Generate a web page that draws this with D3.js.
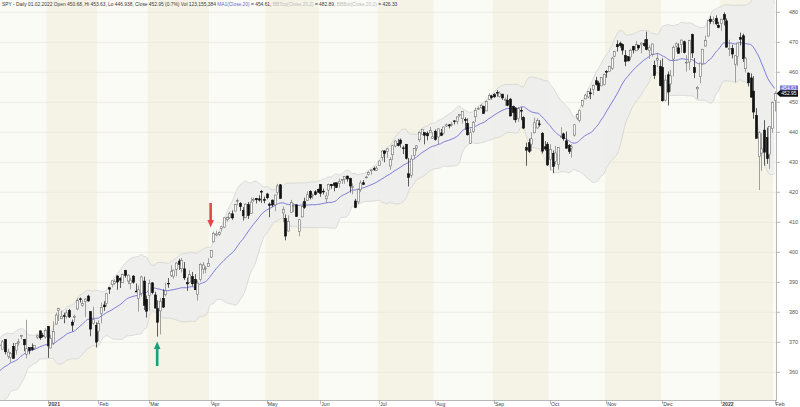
<!DOCTYPE html>
<html><head><meta charset="utf-8">
<script src="https://cdn.jsdelivr.net/npm/d3@7"></script>
<style>body{margin:0;background:#fff}svg{display:block}</style>
</head><body>
<svg id="c" width="800" height="407"></svg>
<script>
// ---- DATA: SPY daily [day, open, high, low, close] ----
// Nov 2020 closes only (warm-up for the 20-day MA / Bollinger bands, off-screen)
const nov2020 = [[2,330.20],[3,336.03],[4,343.54],[5,350.24],[6,350.16],[9,354.56],[10,354.04],[11,356.67],[12,352.21],[13,357.34],[16,361.01],[17,358.64],[18,354.35],[19,356.28],[20,355.33],[23,357.46],[24,363.67],[25,362.82],[27,363.92],[30,362.06]];
const dec2020 = [[1,365.57,367.68,364.93,366.02],[2,364.82,366.96,364.20,366.79],[3,366.68,368.19,365.50,366.69],[4,367.32,369.85,367.22,369.85],[7,369.02,369.62,367.72,369.09],[8,367.72,370.78,367.67,370.17],[9,370.88,371.05,365.95,366.85],[10,365.37,367.86,364.43,366.73],[11,364.90,366.74,363.26,366.30],[14,368.64,369.80,364.47,364.66],[15,367.40,369.59,365.92,369.59],[16,369.82,371.16,368.87,370.17],[17,371.94,372.46,371.05,372.24],[18,370.97,371.15,367.02,369.18],[21,366.00,377.50,364.60,367.86],[22,368.21,368.33,366.03,367.24],[23,368.28,369.62,367.22,367.57],[24,368.08,369.03,367.45,369.00],[28,371.74,372.59,371.07,372.17],[29,373.81,374.00,370.83,371.46],[30,372.34,373.10,371.57,371.99],[31,371.78,374.66,371.23,373.88]];
const jan2021 = [[4,375.31,375.45,364.82,368.79],[5,368.10,372.50,368.05,371.33],[6,369.71,376.98,369.12,373.55],[7,376.10,379.90,375.91,379.10],[8,380.59,381.49,377.10,381.26],[11,377.85,380.58,377.72,378.69],[12,378.89,379.86,376.36,378.77],[13,378.69,380.86,377.85,379.79],[14,380.59,381.13,378.10,378.46],[15,376.72,377.58,373.70,375.70],[19,378.34,379.23,376.75,378.65],[20,381.11,384.79,380.69,383.89],[21,384.49,384.95,383.25,384.24],[22,382.25,384.13,381.84,382.88],[25,383.67,384.77,378.46,384.39],[26,385.41,385.85,383.54,383.79],[27,380.22,380.32,372.01,374.41],[28,376.36,381.93,375.89,377.63],[29,375.63,376.67,368.27,370.07]];
const feb2021 = [[1,373.72,377.34,370.38,376.23],[2,379.65,383.22,376.32,381.55],[3,382.44,383.70,380.48,381.85],[4,382.96,386.24,381.97,386.19],[5,388.20,388.47,386.14,387.71],[8,389.27,390.56,388.35,390.51],[9,389.61,391.00,389.17,390.25],[10,392.12,392.28,387.50,390.08],[11,391.24,391.69,388.10,390.71],[12,389.85,392.90,389.77,392.64],[16,393.96,394.17,391.53,392.30],[17,390.42,392.66,389.33,392.39],[18,389.59,391.52,387.74,390.72],[19,392.07,392.38,389.55,390.03],[22,387.06,389.62,386.74,387.03],[23,384.66,388.95,380.20,387.50],[24,386.33,392.23,385.27,391.77],[25,390.41,391.88,380.78,382.33],[26,384.35,385.58,378.23,380.36]];
const mar2021 = [[1,385.59,390.92,380.57,389.58],[2,389.82,390.07,386.00,386.54],[3,385.79,386.83,381.31,381.42],[4,381.22,384.00,371.88,376.70],[5,380.46,384.76,372.64,383.63],[8,384.66,387.68,381.42,381.72],[9,385.85,389.91,385.31,387.17],[10,389.69,391.40,388.17,389.58],[11,392.23,395.65,391.74,393.53],[12,392.07,394.21,391.20,394.06],[15,394.33,396.69,392.03,396.41],[16,397.07,397.83,394.11,395.91],[17,394.53,398.12,393.30,397.26],[18,394.48,396.72,390.75,391.48],[19,389.88,391.57,387.15,389.48],[22,390.03,394.07,389.97,392.59],[23,391.91,393.46,388.66,389.50],[24,391.00,392.75,387.47,387.52],[25,385.98,390.55,383.90,389.70],[26,390.93,396.41,390.29,395.98],[29,394.40,396.75,392.81,395.78],[30,394.42,395.45,393.02,394.73],[31,395.34,398.00,395.31,396.33]];
const apr2021 = [[1,398.40,400.67,398.18,400.61],[5,403.46,406.94,403.38,406.36],[6,405.76,407.24,405.40,406.12],[7,405.94,406.96,405.45,406.59],[8,407.93,408.58,406.93,408.52],[9,408.39,411.67,408.26,411.49],[12,410.85,411.93,410.20,411.64],[13,411.53,413.53,411.12,412.86],[14,412.83,413.96,410.87,411.45],[15,413.74,416.16,413.69,415.87],[16,417.25,417.91,415.73,417.26],[19,416.26,416.74,413.79,415.21],[20,413.91,415.09,410.59,412.17],[21,411.51,416.29,411.36,416.07],[22,415.89,416.78,411.13,412.27],[23,412.87,418.25,412.79,416.74],[26,417.44,418.22,416.81,417.61],[27,417.93,418.14,416.30,417.52],[28,417.81,419.01,416.90,417.40],[29,420.32,420.72,416.44,420.06],[30,417.63,418.54,416.34,417.30]];
const may2021 = [[3,419.43,419.84,417.67,418.20],[4,416.07,416.60,411.67,415.62],[5,417.38,417.63,415.15,415.75],[6,415.83,419.21,413.68,419.07],[7,419.89,422.82,419.16,422.12],[10,422.50,422.74,417.81,417.94],[11,413.10,415.27,410.06,414.21],[12,411.23,412.59,404.00,405.41],[13,407.07,412.35,407.02,410.28],[14,413.21,417.49,413.18,416.58],[17,415.39,416.39,413.36,415.52],[18,415.80,416.06,411.77,411.94],[19,406.92,411.05,405.33,410.86],[20,411.80,416.63,411.67,415.28],[21,416.87,418.20,414.45,414.94],[24,417.34,420.32,417.08,419.17],[25,420.33,420.71,417.62,418.24],[26,418.87,419.61,417.76,419.07],[27,420.17,420.72,418.99,419.29],[28,420.97,421.25,419.79,420.04]];
const jun2021 = [[1,422.57,422.72,418.52,419.67],[2,420.37,421.23,419.29,420.33],[3,417.85,419.99,416.28,418.77],[4,420.75,422.92,418.84,422.60],[7,422.59,422.78,421.19,422.19],[8,423.11,423.21,420.32,422.28],[9,423.18,423.26,421.41,421.65],[10,422.96,424.63,421.55,423.61],[11,424.20,424.43,422.82,424.31],[14,424.43,425.37,422.84,425.26],[15,425.42,425.46,423.54,424.48],[16,424.63,424.87,419.92,422.11],[17,421.67,423.02,419.32,421.97],[18,417.09,417.83,414.70,414.92],[21,416.80,421.06,415.93,420.86],[22,420.85,424.00,420.08,423.11],[23,423.19,424.05,422.51,422.60],[24,424.89,425.55,424.62,425.10],[25,425.90,427.09,425.55,426.61],[28,427.17,427.65,425.89,427.47],[29,427.88,428.56,427.13,427.70],[30,427.21,428.78,427.18,428.06]];
const jul2021 = [[1,428.87,430.60,428.80,430.43],[2,431.67,434.10,430.52,433.72],[6,433.78,434.01,430.01,432.93],[7,433.66,434.76,431.51,434.46],[8,428.78,431.73,427.52,430.92],[9,432.53,435.84,430.71,435.52],[12,435.43,437.35,434.97,437.08],[13,436.24,437.84,435.31,435.59],[14,437.40,437.92,434.91,436.24],[15,434.81,435.53,432.72,434.75],[16,436.01,436.06,430.92,431.34],[19,426.19,431.41,421.97,424.97],[20,425.68,432.42,424.83,431.06],[21,432.34,434.70,431.01,434.55],[22,434.74,435.72,433.69,435.46],[23,437.52,440.30,436.79,439.94],[26,439.31,441.03,439.26,441.02],[27,439.91,439.94,435.99,439.01],[28,439.68,440.30,437.31,438.83],[29,439.82,441.80,439.81,440.65],[30,437.91,440.06,437.77,438.51]];
const aug2021 = [[2,440.34,440.93,437.21,437.59],[3,438.44,441.28,436.10,441.15],[4,439.78,441.12,438.73,438.98],[5,439.74,441.85,439.23,441.76],[6,442.10,442.94,441.80,442.49],[9,442.46,442.80,441.31,442.13],[10,442.61,443.44,441.88,442.68],[11,443.82,443.88,442.62,443.78],[12,443.62,445.26,442.66,445.11],[13,445.59,445.94,445.07,445.92],[16,444.53,447.11,442.87,446.97],[17,444.24,444.96,440.85,444.04],[18,442.96,444.63,438.92,439.18],[19,436.27,441.14,436.12,439.86],[20,440.23,443.71,439.71,443.36],[23,445.16,448.23,443.44,447.26],[24,447.97,448.54,447.42,447.97],[25,448.17,449.46,447.77,448.91],[26,448.61,448.86,446.16,446.26],[27,447.12,450.65,447.06,450.25],[30,450.97,453.07,450.71,452.23],[31,452.13,452.49,450.92,451.56]];
const sep2021 = [[1,452.56,453.11,451.55,451.80],[2,453.32,454.05,451.91,453.19],[3,451.98,453.63,451.55,453.08],[7,452.71,452.81,450.74,451.46],[8,450.89,451.67,448.86,450.91],[9,450.70,452.57,448.72,448.98],[10,451.04,451.47,445.31,445.44],[13,448.64,448.92,444.11,446.58],[14,448.12,448.34,443.22,444.17],[15,444.62,448.41,443.44,447.88],[16,447.32,448.36,444.02,447.17],[17,444.92,445.37,441.02,441.40],[20,434.88,436.56,428.86,434.04],[21,436.53,437.91,433.07,433.63],[22,436.05,440.03,433.75,437.86],[23,439.85,444.89,439.60,443.18],[24,441.44,444.67,441.21,443.91],[27,442.81,444.05,441.90,442.64],[28,439.69,440.04,432.94,433.72],[29,435.19,437.04,433.85,434.45],[30,436.02,436.77,428.78,429.14]];
const oct2021 = [[1,430.98,436.03,427.23,434.24],[4,433.00,433.96,426.36,428.64],[5,430.24,435.49,429.39,433.10],[6,429.27,435.12,427.54,434.90],[7,438.39,441.68,438.20,438.66],[8,439.48,439.89,437.19,437.86],[11,437.16,440.26,434.62,434.69],[12,435.67,436.10,432.78,433.62],[13,434.71,436.05,431.54,435.18],[14,439.08,442.66,438.58,442.50],[15,444.75,446.26,444.09,445.87],[18,443.97,447.55,443.27,447.19],[19,448.92,450.71,448.27,450.64],[20,451.13,452.73,451.01,452.41],[21,451.77,453.83,451.31,453.59],[22,453.13,454.67,451.05,453.12],[25,454.28,455.90,452.39,455.55],[26,457.20,458.49,455.56,455.96],[27,456.45,457.16,453.86,453.94],[28,455.46,458.40,455.45,458.32],[29,455.87,459.56,455.56,459.25]];
const nov2021 = [[1,460.30,460.70,458.20,460.04],[2,460.22,462.23,460.08,461.90],[3,461.30,465.15,460.83,464.72],[4,465.36,467.00,464.99,466.91],[5,469.28,470.65,466.92,468.53],[8,469.70,470.23,468.20,468.93],[9,469.32,469.57,465.88,467.38],[10,465.58,467.38,462.04,463.62],[11,465.21,465.29,463.75,463.77],[12,465.12,467.86,464.11,467.27],[15,468.64,468.81,466.23,467.43],[16,467.15,470.49,467.07,469.28],[17,469.00,469.19,467.48,468.14],[18,469.24,470.01,466.34,469.73],[19,469.61,470.94,468.50,468.89],[22,470.89,473.54,467.35,467.57],[23,467.22,469.10,464.45,468.19],[24,466.06,469.57,465.19,469.44],[26,462.34,463.90,457.77,458.97],[29,464.07,466.56,461.73,464.60],[30,462.00,464.03,455.30,455.56]];
const dec2021 = [[1,461.64,464.67,450.29,450.50],[2,450.73,459.07,450.31,457.40],[3,459.17,460.30,448.92,453.42],[6,456.13,460.79,453.56,458.79],[7,464.41,468.88,458.65,468.28],[8,468.70,470.00,466.83,469.52],[9,468.15,469.63,466.14,466.35],[10,469.23,470.90,466.51,470.74],[13,470.19,470.56,466.27,466.57],[14,463.09,465.74,460.25,463.36],[15,463.42,470.86,460.74,470.60],[16,472.57,472.87,464.80,466.45],[17,461.55,464.74,458.06,459.87],[20,454.48,455.40,451.14,454.98],[21,458.61,463.21,456.31,463.06],[22,462.79,467.81,462.58,467.69],[23,468.75,472.19,468.64,470.60],[27,472.06,477.31,472.01,477.26],[28,477.72,478.81,476.06,476.87],[29,476.98,478.56,475.92,477.48],[30,477.93,479.00,475.67,476.16],[31,475.64,476.86,474.67,474.96]];
const jan2022 = [[3,476.30,477.85,473.85,477.71],[4,479.22,479.98,475.58,477.55],[5,477.16,477.98,468.28,468.38],[6,467.89,470.82,465.43,467.94],[7,467.95,469.20,464.65,466.09],[10,462.70,465.74,456.60,465.51],[11,465.23,469.85,462.05,469.75],[12,471.59,473.20,468.94,471.02],[13,472.19,472.88,463.44,464.53],[14,461.19,465.09,459.90,464.72],[18,459.74,459.96,455.31,456.49],[19,458.13,459.61,451.46,451.75],[20,453.75,458.74,444.50,446.75],[21,445.56,448.06,437.95,437.98],[24,432.03,440.38,420.76,439.84],[25,433.06,439.72,427.15,434.47],[26,440.72,444.04,428.86,433.38],[27,438.26,441.59,429.45,431.24],[28,432.68,442.00,427.82,441.95],[31,441.24,450.28,439.81,449.91]];
const feb2022 = [[1,450.68,453.63,446.938,452.95]];

const monthNames = ["Jan","Feb","Mar","Apr","May","Jun","Jul","Aug","Sep","Oct","Nov","Dec"];
const priceTicks = [360,370,380,390,400,410,420,430,440,450,460,470,480];
const headerParts = [
  ["SPY - Daily 01.02.2022 Open 450.68, Hi 453.63, Lo 446.938, Close 452.95 (0.7%) Vol 123,155,384 ", "#3a3a3a"],
  ["MA1(Close,20)", "#6a6ad0"], [" = 454.61, ", "#3a3a3a"],
  ["BBTop(Close,20,2)", "#bdbdbd"], [" = 482.89, ", "#3a3a3a"],
  ["BBBot(Close,20,2)", "#bdbdbd"], [" = 426.33", "#3a3a3a"]
];
const annotations = [
  {date:"2021-04-01", price:408.3, dir:"down", color:"#e5474b"},
  {date:"2021-03-04", price:370.3, dir:"up", color:"#17a27b"}
];

// ---- build series ----
const months = [[2020,11,nov2020],[2020,12,dec2020],[2021,1,jan2021],[2021,2,feb2021],[2021,3,mar2021],[2021,4,apr2021],[2021,5,may2021],[2021,6,jun2021],[2021,7,jul2021],[2021,8,aug2021],[2021,9,sep2021],[2021,10,oct2021],[2021,11,nov2021],[2021,12,dec2021],[2022,1,jan2022],[2022,2,feb2022]];
const all = [];
months.forEach(([yr,mo,rows]) => rows.forEach(r => {
  const d = {yr, mo, day:r[0], key: yr*100+mo, iso: `${yr}-${String(mo).padStart(2,"0")}-${String(r[0]).padStart(2,"0")}`};
  if (r.length > 2) { d.o=r[1]; d.h=r[2]; d.l=r[3]; d.c=r[4]; d.draw=true; }
  else { d.c=r[1]; d.draw=false; }
  d.i = all.length; all.push(d);
}));
for (let i = 19; i < all.length; i++) {
  const w = all.slice(i-19, i+1).map(d => d.c);
  const m = d3.mean(w);
  const sd = Math.sqrt(d3.mean(w, v => (v-m)*(v-m)));
  all[i].ma = m; all[i].up = m + 2*sd; all[i].dn = m - 2*sd;
}

const PL=0, PR=776, PT=0, PB=400;
const iStart = all.find(d => d.iso === "2021-01-04").i;
const iEnd = all.length - 1;
const x = d3.scaleLinear().domain([iStart, iEnd]).range([47.6, 774.6]);
const step = x(1) - x(0);
const y = d3.scaleLinear().domain([360, 480]).range([372.3, 12.3]);

const svg = d3.select("#c");
svg.append("defs").append("clipPath").attr("id","plot").append("rect")
  .attr("x",PL).attr("y",PT).attr("width",PR-PL).attr("height",PB-PT);
const g = svg.append("g").attr("clip-path","url(#plot)");

// month bands
const groups = d3.groups(all, d => d.key);
groups.forEach(([key, ds]) => {
  const mo = key % 100;
  const x0 = x(ds[0].i) - step/2, x1 = x(ds[ds.length-1].i) + step/2;
  g.append("rect").attr("x", x0).attr("y", PT).attr("width", x1-x0).attr("height", PB-PT)
    .attr("fill", mo % 2 === 1 ? "#f4f3e5" : "#fbfbf6");
});

// grid
g.selectAll("line.grid").data(priceTicks).join("line").attr("class","grid")
  .attr("x1",PL).attr("x2",PR).attr("y1",d=>y(d)).attr("y2",d=>y(d))
  .attr("stroke","#e3e3dc").attr("stroke-width",0.6);

// Bollinger band
const bb = all.filter(d => d.ma !== undefined);
g.append("path").datum(bb)
  .attr("d", d3.area().x(d=>x(d.i)).y0(d=>y(d.dn)).y1(d=>y(d.up)).curve(d3.curveMonotoneX))
  .attr("fill","#ededed").attr("fill-opacity",0.88);
[["up"],["dn"]].forEach(([k]) => {
  g.append("path").datum(bb)
    .attr("d", d3.line().x(d=>x(d.i)).y(d=>y(d[k])).curve(d3.curveMonotoneX))
    .attr("fill","none").attr("stroke","#cfcfcf").attr("stroke-width",0.7);
});
// MA
g.append("path").datum(bb)
  .attr("d", d3.line().x(d=>x(d.i)).y(d=>y(d.ma)).curve(d3.curveMonotoneX))
  .attr("fill","none").attr("stroke","#6f6fd8").attr("stroke-width",0.9);

// candles
const cd = all.filter(d => d.draw);
g.selectAll("line.wick").data(cd).join("line").attr("class","wick")
  .attr("x1",d=>Math.round(x(d.i))+0.5).attr("x2",d=>Math.round(x(d.i))+0.5)
  .attr("y1",d=>y(d.h)).attr("y2",d=>y(d.l))
  .attr("stroke",d=>d.c>=d.o?"#8a8a8a":"#333").attr("stroke-width",0.8);
const bw = 2.2;
g.selectAll("rect.body").data(cd).join("rect").attr("class","body")
  .attr("x",d=>Math.round(x(d.i))+0.5-bw/2).attr("width",bw)
  .attr("y",d=>y(Math.max(d.o,d.c)))
  .attr("height",d=>Math.max(0.8, Math.abs(y(d.o)-y(d.c))))
  .attr("fill",d=>d.c>=d.o?"#ffffff":"#111111")
  .attr("stroke",d=>d.c>=d.o?"#6e6e6e":"#111111").attr("stroke-width",0.6);

// annotations (arrows)
annotations.forEach(a => {
  const d = all.find(e => e.iso === a.date);
  const cx = x(d.i), tip = y(a.price);
  const s = a.dir === "down" ? -1 : 1;
  const headL = 7.5, shaft = 17, hw = 3.3, sw = 1.3;
  const p = d3.path();
  p.moveTo(cx, tip);
  p.lineTo(cx+hw, tip + s*headL);
  p.lineTo(cx+sw, tip + s*headL);
  p.lineTo(cx+sw, tip + s*(headL+shaft));
  p.lineTo(cx-sw, tip + s*(headL+shaft));
  p.lineTo(cx-sw, tip + s*headL);
  p.lineTo(cx-hw, tip + s*headL);
  p.closePath();
  svg.append("path").attr("d", p.toString()).attr("fill", a.color);
});

// axes
const font = "'Liberation Sans', Arial, sans-serif";
svg.append("line").attr("x1",PR+0.5).attr("x2",PR+0.5).attr("y1",0).attr("y2",PB)
  .attr("stroke","#b8b8b8").attr("stroke-width",1);
svg.append("line").attr("x1",0).attr("x2",PR+1).attr("y1",PB+0.5).attr("y2",PB+0.5)
  .attr("stroke","#b8b8b8").attr("stroke-width",1);
svg.selectAll("line.rt").data(priceTicks).join("line").attr("class","rt")
  .attr("x1",PR+1).attr("x2",PR+4).attr("y1",d=>y(d)).attr("y2",d=>y(d))
  .attr("stroke","#999").attr("stroke-width",0.7);
svg.selectAll("text.rl").data(priceTicks).join("text").attr("class","rl")
  .attr("x",789).attr("y",d=>y(d)+1.9).text(d=>d)
  .attr("font-family",font).attr("font-size",5.4).attr("fill","#555");

// month ticks
const mticks = groups.filter(([k]) => k >= 202101).map(([k, ds]) => ds[0]);
svg.selectAll("line.mt").data(mticks).join("line").attr("class","mt")
  .attr("x1",d=>Math.round(x(d.i))+0.5).attr("x2",d=>Math.round(x(d.i))+0.5)
  .attr("y1",PB).attr("y2",PB+4).attr("stroke","#999").attr("stroke-width",0.7);
svg.selectAll("text.ml").data(mticks).join("text").attr("class","ml")
  .attr("x",d=>x(d.i)+1).attr("y",406)
  .text(d => d.mo === 1 ? String(d.yr) : monthNames[d.mo-1])
  .attr("font-family",font).attr("font-size",5.2)
  .attr("font-weight",d=>d.mo===1?"bold":"normal").attr("fill","#444");

// last-value tags
const last = all[iEnd];
const maY = y(last.ma), cY = y(last.c);
svg.append("rect").attr("x",780).attr("y",maY-3).attr("width",18).attr("height",6).attr("fill","#7676d4");
svg.append("text").attr("x",789).attr("y",maY+1.9).attr("text-anchor","middle").text(last.ma.toFixed(2))
  .attr("font-family",font).attr("font-size",5).attr("fill","#fff");
svg.append("path").attr("d",`M${PR+0.5},${cY} L${780},${cY-3.2} L798,${cY-3.2} L798,${cY+3.2} L780,${cY+3.2} Z`).attr("fill","#111");
svg.append("text").attr("x",789).attr("y",cY+1.9).attr("text-anchor","middle").text(last.c.toFixed(2))
  .attr("font-family",font).attr("font-size",5).attr("fill","#fff");

// header (font size fitted so the line spans ~395px, no glyph squeezing)
const ht = svg.append("text").attr("x",2).attr("y",6.3).attr("font-family",font).attr("font-size",5.6);
headerParts.forEach(([t,c]) => ht.append("tspan").attr("fill",c).text(t));
const natural = ht.node().getComputedTextLength();
if (natural > 0) ht.attr("font-size", (5.6 * 395 / natural).toFixed(2));
</script>
</body></html>
